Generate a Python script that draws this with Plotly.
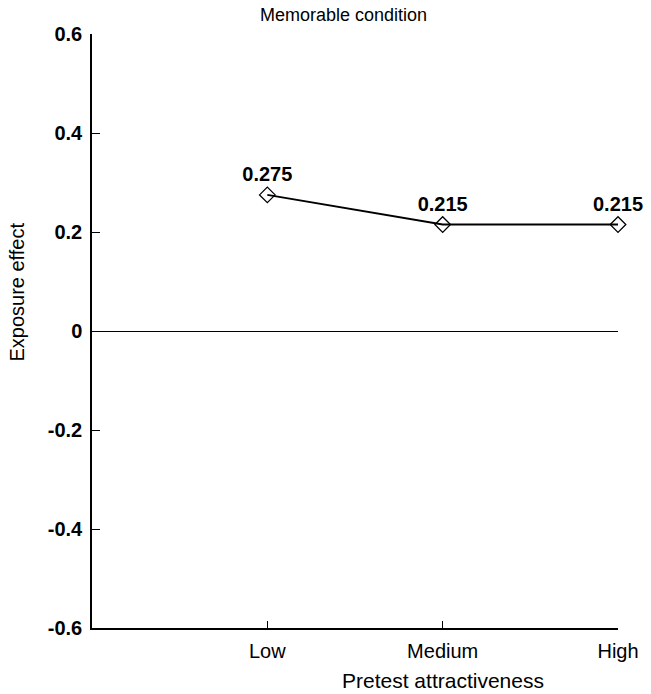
import plotly.graph_objects as go

categories = ["Low", "Medium", "High"]
exposure_effect = [0.275, 0.215, 0.215]
label_text = ["0.275", "0.215", "0.215"]
y_tick_vals = [-0.6, -0.4, -0.2, 0, 0.2, 0.4, 0.6]
y_tick_text = ["-0.6", "-0.4", "-0.2", "0", "0.2", "0.4", "0.6"]

FONT = "Liberation Sans, Arial, Helvetica, sans-serif"

fig = go.Figure()
fig.add_trace(go.Scatter(
    x=categories, y=exposure_effect,
    mode="lines+markers+text",
    text=label_text, textposition="top center",
    textfont=dict(family=FONT, size=20, color="black", weight="bold"),
    line=dict(color="black", width=2),
    marker=dict(symbol="diamond-open", size=12, color="black", line=dict(width=1.3, color="black")),
    cliponaxis=False, showlegend=False,
))

L, R, T, B = 92, 29, 34, 66
fig.update_layout(
    width=651, height=694,
    margin=dict(l=L, r=R, t=T, b=B),
    paper_bgcolor="white", plot_bgcolor="white",
    font=dict(family=FONT, size=18, color="black"),
    xaxis=dict(
        type="category", range=[-1, 2],
        showgrid=False, zeroline=False,
        showline=True, linecolor="black", linewidth=1.5,
        ticks="inside", ticklen=7, tickwidth=1, tickcolor="black",
        tickfont=dict(family=FONT, size=20, color="black"),
        ticklabelstandoff=4,
    ),
    yaxis=dict(
        range=[-0.6, 0.6],
        tickvals=y_tick_vals, ticktext=y_tick_text,
        showgrid=False,
        zeroline=True, zerolinecolor="black", zerolinewidth=1.3,
        showline=True, linecolor="black", linewidth=1.5,
        ticks="inside", ticklen=8, tickwidth=1, tickcolor="black",
        tickfont=dict(family=FONT, size=20, color="black", weight="bold"),
        ticklabelstandoff=4,
    ),
    annotations=[
        dict(text="Memorable condition", xref="paper", yref="paper",
             x=(345 - L) / 530, y=(628 - 15) / 594, xanchor="center", yanchor="middle",
             showarrow=False, font=dict(family=FONT, size=18, color="black")),
        dict(text="Pretest attractiveness", xref="paper", yref="paper",
             x=(446 - L) / 530, y=(628 - 680) / 594, xanchor="center", yanchor="middle",
             showarrow=False, font=dict(family=FONT, size=21, color="black")),
        dict(text="Exposure effect", xref="paper", yref="paper", textangle=-90,
             x=(16 - L) / 530, y=(628 - 292) / 594, xanchor="center", yanchor="middle",
             showarrow=False, font=dict(family=FONT, size=20, color="black")),
    ],
)

fig.write_html("out.html")
